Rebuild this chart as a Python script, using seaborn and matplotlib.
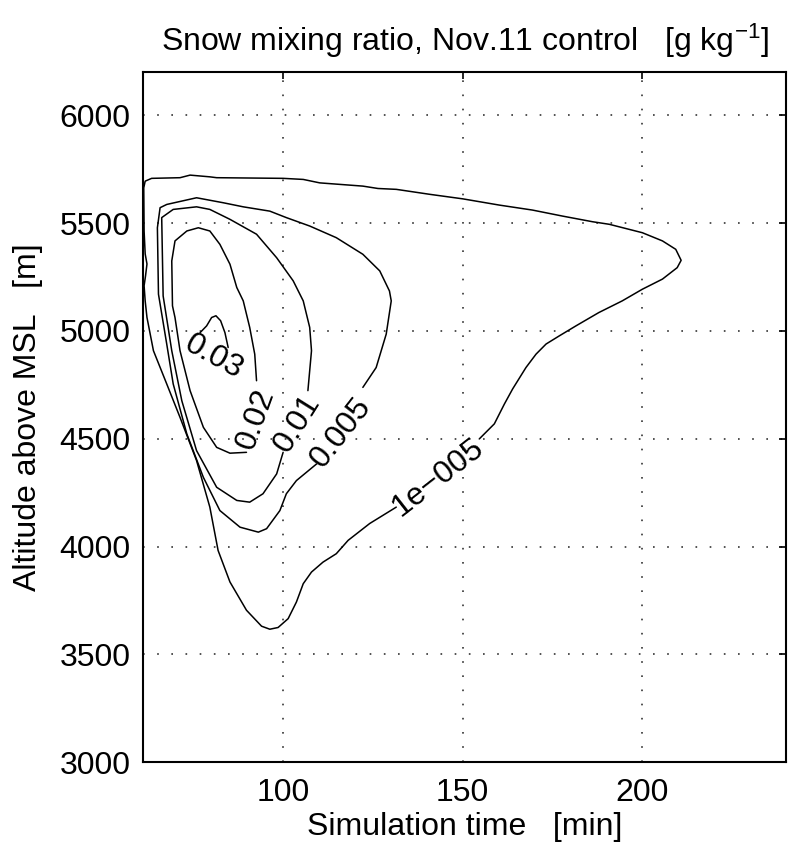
import numpy as np
import pandas as pd
import matplotlib
matplotlib.use("Agg")
import matplotlib.pyplot as plt
import seaborn as sns

# ---- contour lines (time [min], altitude [m]) ----
# 1e-005 contour (gap where its label sits)
c1e5_t = [154.6, 158.8, 161.6, 163.9, 167.6, 170.4, 173.2, 176.9, 181.5, 187.9, 194.4,
          200.0, 205.6, 209.7, 210.8, 209.3, 205.6, 200.0, 190.8, 186.1, 177.8, 169.4,
          160.2, 150.0, 140.8, 131.5, 126.4, 122.2, 110.2, 105.6, 100.0, 81.5, 79.6,
          74.1, 71.3, 63.4, 61.6, 61.2, 61.3, 61.6, 62.1, 61.7, 61.3, 61.6, 62.1,
          63.9, 67.6, 71.3, 75.9, 79.6, 81.9, 85.2, 89.8, 94.0, 96.3, 98.6, 101.4,
          103.7, 105.6, 107.9, 111.1, 114.8, 118.1, 124.1, 131.5]
c1e5_z = [4499, 4569, 4661, 4731, 4830, 4892, 4939, 4977, 5023, 5085, 5139,
          5193, 5240, 5293, 5327, 5378, 5417, 5455, 5494, 5506, 5532, 5560,
          5583, 5612, 5633, 5656, 5660, 5671, 5686, 5702, 5707, 5710, 5714,
          5722, 5710, 5707, 5694, 5663, 5463, 5357, 5310, 5255, 5209, 5139, 5062,
          4908, 4754, 4599, 4399, 4183, 3982, 3836, 3705, 3631, 3617, 3625, 3666,
          3743, 3828, 3882, 3928, 3967, 4029, 4107, 4183]

# 0.005 contour
c005_t = [122.2, 125.9, 128.7, 130.1, 129.6, 126.9, 122.2, 114.8, 107.4, 100.9, 96.3,
          88.9, 83.3, 75.9, 67.6, 65.75, 65.0, 65.3, 67.6, 69.4, 73.2, 77.8, 82.4,
          88.0, 93.1, 95.4, 99.1, 100.9, 103.7, 109.3]
c005_z = [4738, 4830, 4985, 5139, 5185, 5278, 5355, 5432, 5486, 5525, 5555,
          5575, 5594, 5617, 5586, 5571, 5478, 5170, 4939, 4754, 4522, 4321, 4167,
          4090, 4067, 4083, 4167, 4245, 4306, 4383]

# 0.01 contour
c01_t = [106.9, 107.9, 107.4, 105.6, 102.8, 98.2, 92.6, 85.2, 79.6, 75.9, 69.4,
         66.2, 66.6, 69.0, 71.8, 75.9, 81.5, 87.1, 90.7, 94.4, 98.2, 100.0]
c01_z = [4723, 4908, 5016, 5139, 5232, 5339, 5448, 5517, 5563, 5575, 5563,
         5525, 5162, 4908, 4676, 4445, 4275, 4214, 4206, 4245, 4337, 4437]

# 0.02 contour
c02_t = [92.6, 92.1, 90.7, 88.9, 87.1, 85.2, 82.4, 79.6, 76.4, 73.2, 69.9, 69.0,
         69.2, 69.9, 71.3, 74.1, 77.8, 81.5, 85.2, 89.8]
c02_z = [4769, 4892, 5016, 5139, 5201, 5309, 5401, 5463, 5478, 5463, 5417, 5324,
         5116, 5062, 4908, 4723, 4553, 4460, 4433, 4437]

# 0.03 contour (visible cap only, rest hidden by its label)
c03_t = [76.9, 78.7, 80.1, 81.3, 82.6, 83.8, 84.7]
c03_z = [4992, 5023, 5062, 5070, 5047, 4992, 4923]

# contour labels: text, time, altitude, rotation
label_text = ["0.03", "0.02", "0.01", "0.005", "1e\u2212005"]
label_t = [80.75, 92.4, 103.9, 116.2, 143.0]
label_z = [4877, 4593, 4569, 4530, 4320]
label_rot = [-29, 70, 58, 52, 38]

x_ticks = [100, 150, 200]
y_ticks = [3000, 3500, 4000, 4500, 5000, 5500, 6000]

# ---- build long table ----
frames = []
for name, t, z in [("1e-005", c1e5_t, c1e5_z), ("0.005", c005_t, c005_z),
                   ("0.01", c01_t, c01_z), ("0.02", c02_t, c02_z),
                   ("0.03", c03_t, c03_z)]:
    frames.append(pd.DataFrame({"t": t, "z": z, "seg": name,
                                "order": np.arange(len(t))}))
df = pd.concat(frames, ignore_index=True)

sns.set_theme(style="white")
plt.rcParams["font.family"] = ["Liberation Sans", "DejaVu Sans"]
plt.rcParams["mathtext.fontset"] = "custom"
plt.rcParams["mathtext.rm"] = "Liberation Sans"
plt.rcParams["mathtext.it"] = "Liberation Sans:italic"

FS = 23

fig = plt.figure(figsize=(7.88, 8.51), dpi=100)
ax = fig.add_axes([0.1815, 0.1042, 0.8160, 0.8112])

sns.lineplot(data=df, x="t", y="z", units="seg", estimator=None, sort=False,
             color="black", linewidth=1.1, ax=ax, legend=False)

for txt, t, z, r in zip(label_text, label_t, label_z, label_rot):
    ax.text(t, z, txt, rotation=r, rotation_mode="anchor", ha="center",
            va="center", fontsize=FS, color="black")

ax.set_xlim(61, 240)
ax.set_ylim(3000, 6200)
ax.set_xticks(x_ticks)
ax.set_yticks(y_ticks)
ax.grid(True, color="0.2", linestyle=(0, (1, 7.5)), linewidth=1.2)
ax.tick_params(direction="in", length=5, width=1.2, top=True, right=True,
               labelsize=FS, colors="black")
ax.tick_params(axis="x", pad=11)
ax.tick_params(axis="y", pad=9)
for s in ax.spines.values():
    s.set_color("black")
    s.set_linewidth(1.5)
ax.set_xlabel("Simulation time   [min]", fontsize=FS, color="black", labelpad=3)
ax.set_ylabel("Altitude above MSL   [m]", fontsize=FS, color="black", labelpad=12)
ax.set_title("Snow mixing ratio, Nov.11 control   [g kg$^{-1}$]", fontsize=FS,
             color="black", pad=15)

fig.savefig("out.png", dpi=100)
